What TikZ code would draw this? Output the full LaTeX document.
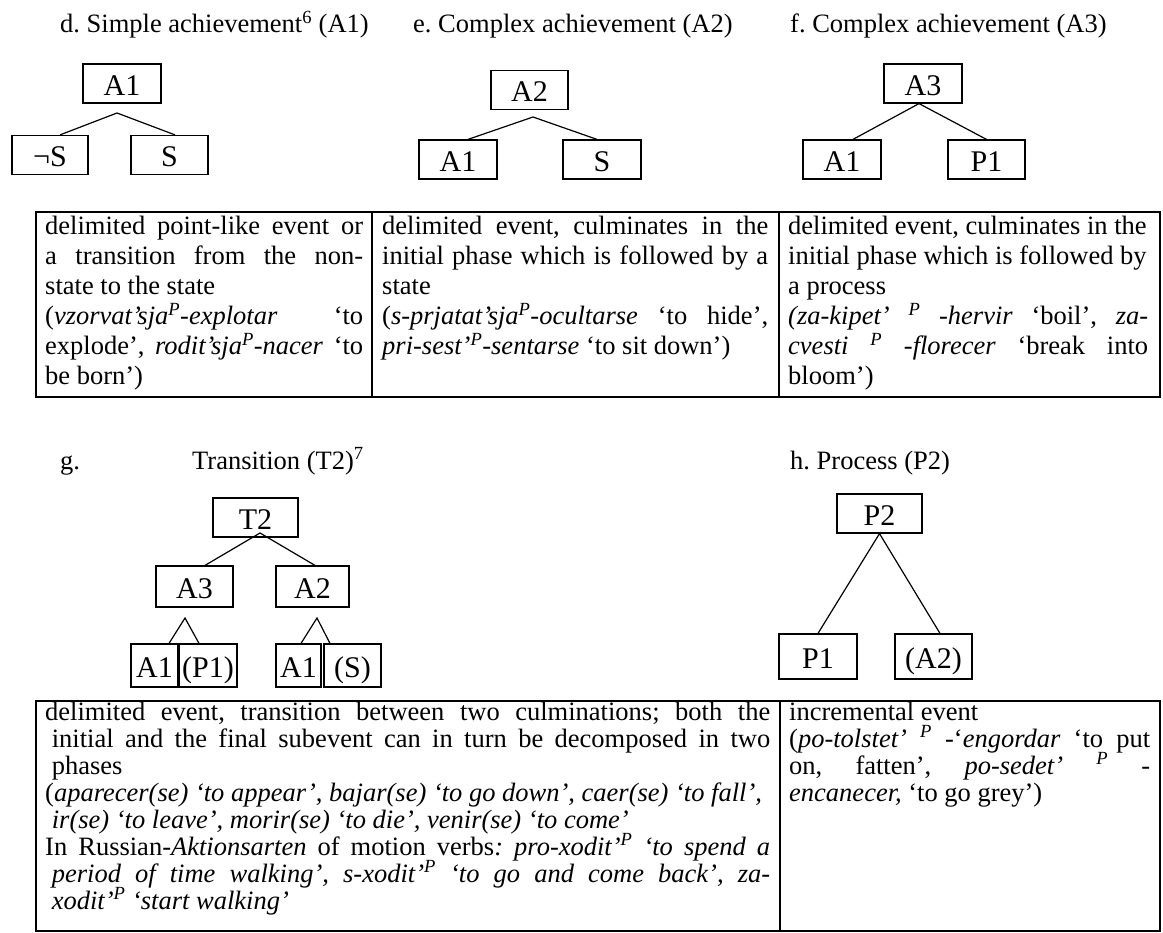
\documentclass[tikz,border=0pt]{standalone}
\usepackage{fontspec}
\setmainfont{Liberation Serif}
\usetikzlibrary{calc}
\frenchspacing

\newcommand{\jline}[1]{\makebox[\hsize][s]{\spaceskip=0pt \xspaceskip=0pt #1}} % justified line
\newcommand{\rline}[1]{\makebox[\hsize][l]{\spaceskip=0pt \xspaceskip=0pt #1}} % ragged line

\begin{document}
\begin{tikzpicture}
[
    x=1pt, y=-1pt,
    txt/.style={anchor=base west, inner sep=0pt, font=\fontsize{26.5}{30}\selectfont}, % txt = plain text
    cell/.style={txt, align=left},                                            % cell = table cell
    cellb/.style={cell, font=\fontsize{26.5}{27}\selectfont},                 % cellb = lower table
    bx/.style={draw, line width=1.2pt, inner sep=0pt, minimum height=39pt,
        text height=24pt, text depth=0pt, font=\fontsize{30}{30}\selectfont}, % bx = tree box
    br/.style={line width=1.2pt},  % br = branch
    tbl/.style={line width=1.8pt}, % tbl = table rule
]
\useasboundingbox (0,0) rectangle (1163,933);

\node[txt] (dtitle) at (60,33) {d. Simple achievement\textsuperscript{6} (A1)};
\node[txt] (etitle) at (413,33) {e. Complex achievement (A2)};
\node[txt] (ftitle) at (790,33) {f. Complex achievement (A3)};

% tree d
\node[bx, minimum width=78pt] (da1) at (122,83.5) {A1};
\node[bx, minimum width=76pt] (dneg) at (50,155) {¬S};
\node[bx, minimum width=77pt] (ds) at (169.5,155) {S};
\coordinate (dtip) at (117,113);
\draw[br] ($(dneg.north)+(10,0)$) -- (dtip) -- ($(ds.north)+(5.5,0)$);

% tree e
\node[bx, minimum width=77pt] (ea2) at (529.5,90) {A2};
\node[bx, minimum width=78pt] (ea1) at (458,159.5) {A1};
\node[bx, minimum width=78pt] (es) at (602,159.5) {S};
\coordinate (etip) at (533,117);
\draw[br] ($(ea1.north)+(10,0)$) -- (etip) -- ($(es.north)+(-5,0)$);

% tree f
\node[bx, minimum width=78pt] (fa3) at (923,83.5) {A3};
\node[bx, minimum width=78pt] (fa1) at (842,159.5) {A1};
\node[bx, minimum width=77pt] (fp1) at (986.5,159.5) {P1};
\draw[br] ($(fa1.north)+(11,0)$) -- ($(fa3.south)+(-4,0)$) -- (fp1.north);

% upper table
\draw[tbl] (36,212) rectangle (1160,397);
\draw[tbl] (372,212) -- (372,397);
\draw[tbl] (779,212) -- (779,397);

\node[cell, text width=318pt] (da1txt) at (45,235) {\noindent
\jline{delimited point-like event or}\\
\jline{a transition from the non-}\\
\rline{state to the state}\\
\jline{(\textit{vzorvat’sja\textsuperscript{P}-explotar} ‘to}\\
\jline{explode’, \textit{rodit’sja\textsuperscript{P}-nacer} ‘to}\\
\rline{be born’)}};

\node[cell, text width=386pt] (ea2txt) at (382,235) {\noindent
\jline{delimited event, culminates in the}\\
\jline{initial phase which is followed by a}\\
\rline{state}\\
\jline{(\textit{s-prjatat’sja\textsuperscript{P}-ocultarse} ‘to hide’,}\\
\rline{\textit{pri-sest’\textsuperscript{P}-sentarse} ‘to sit down’)}};

\node[cell, text width=360pt] (fa3txt) at (788,235) {\noindent
\rline{delimited event, culminates in the}\\
\rline{initial phase which is followed by}\\
\rline{a process}\\
\jline{\textit{(za-kipet’} \textsuperscript{\textit{P}} \textit{-hervir} ‘boil’, \textit{za-}}\\
\jline{\textit{cvesti} \textsuperscript{\textit{P}} \textit{-florecer} ‘break into}\\
\rline{bloom’)}};

\node[txt] (glabel) at (60,469) {g.};
\node[txt] (gtitle) at (192,469) {Transition (T2)\textsuperscript{7}};
\node[txt] (htitle) at (790,469) {h. Process (P2)};

% tree g
\node[bx, minimum width=85pt] (gt2) at (255.5,517.5) {T2};
\node[bx, minimum width=77pt, minimum height=41pt] (ga3) at (194.5,586.5) {A3};
\node[bx, minimum width=73pt, minimum height=41pt] (ga2) at (312.5,586.5) {A2};
\coordinate (gtip) at (260,533);
\draw[br] ($(ga3.north)+(10.5,0)$) -- (gtip) -- ($(ga2.north)+(2.5,0)$);
\node[bx, minimum width=47pt, minimum height=43pt] (gl1) at (154.5,665.5) {A1};
\node[bx, minimum width=58pt, minimum height=43pt] (gl2) at (208,665.5) {(P1)};
\node[bx, minimum width=45pt, minimum height=43pt] (gr1) at (298.5,665.5) {A1};
\node[bx, minimum width=57pt, minimum height=43pt] (gr2) at (352.5,665.5) {(S)};
\coordinate (gltip) at (185,618);
\coordinate (grtip) at (317,618);
\draw[br] ($(gl1.north)+(14.5,0)$) -- (gltip) -- ($(gl2.north)+(-9,0)$);
\draw[br] ($(gr1.north)+(2.5,0)$) -- (grtip) -- ($(gr2.north)+(-22.5,0)$);

% tree h
\node[bx, minimum width=85pt] (hp2) at (879.5,513.5) {P2};
\node[bx, minimum width=78pt, minimum height=45pt] (hp1) at (818,656.5) {P1};
\node[bx, minimum width=77pt, minimum height=45pt] (ha2) at (933.5,656.5) {(A2)};
\draw[br] (hp1.north) -- (hp2.south) -- ($(ha2.north)+(6.5,0)$);

% lower table
\draw[tbl] (36,701) rectangle (1160,931);
\draw[tbl] (780,701) -- (780,931);

\node[cellb, text width=725pt] (gt2txt) at (45,720) {\noindent
\jline{delimited event, transition between two culminations; both the}\\
\jline{\hspace*{.25em}initial and the final subevent can in turn be decomposed in two}\\
\rline{\hspace*{.25em}phases}\\
\rline{(\textit{aparecer(se) ‘to appear’, bajar(se) ‘to go down’, caer(se) ‘to fall’,}}\\
\rline{\hspace*{.25em}\textit{ir(se) ‘to leave’, morir(se) ‘to die’, venir(se) ‘to come’}}\\
\jline{In Russian-\textit{Aktionsarten} of motion verbs\textit{: pro-xodit’\textsuperscript{P} ‘to spend a}}\\
\jline{\hspace*{.25em}\textit{period of time walking’, s-xodit’\textsuperscript{P} ‘to go and come back’, za-}}\\
\rline{\hspace*{.25em}\textit{xodit’\textsuperscript{P} ‘start walking’}}};

\node[cellb, text width=361pt] (hp2txt) at (789,720) {\noindent
\rline{incremental event}\\
\jline{(\textit{po-tolstet’} \textsuperscript{\textit{P}} -‘\textit{engordar} ‘to put}\\
\jline{on, fatten’, \textit{po-sedet’} \textsuperscript{\textit{P}} -}\\
\rline{\textit{encanecer,} ‘to go grey’)}};
\end{tikzpicture}
\end{document}
